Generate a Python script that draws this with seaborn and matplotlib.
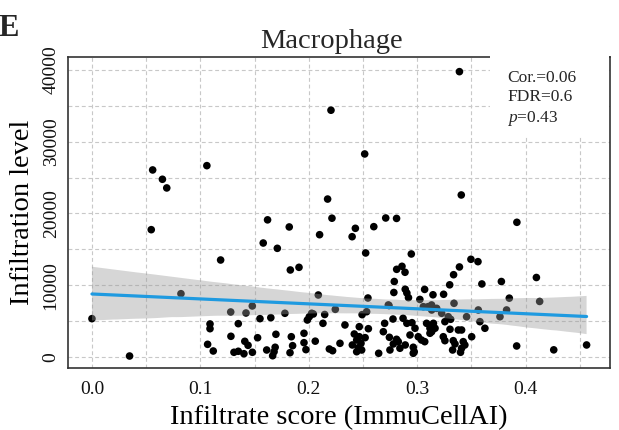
import numpy as np
import pandas as pd
import matplotlib
matplotlib.use("Agg")
import matplotlib.pyplot as plt
import seaborn as sns
from matplotlib.patches import Rectangle
from matplotlib.collections import PolyCollection
from matplotlib.ticker import MultipleLocator

# ---------------- data ----------------
panel_letter = "E"
title = "Macrophage"
x_label = "Infiltrate score (ImmuCellAI)"
y_label = "Infiltration level"
stats_lines = ["Cor.=0.06", "FDR=0.6", "$\\it{p}$=0.43"]
x_ticks = [0.0, 0.1, 0.2, 0.3, 0.4]
x_tick_labels = ["0.0", "0.1", "0.2", "0.3", "0.4"]
y_ticks = [0, 10000, 20000, 30000, 40000]
y_tick_labels = ["0", "10000", "20000", "30000", "40000"]

score = [
    0.056, 0.065, 0.069, 0.106, 0.162, 0.339, 0.2205, 0.2516, 0.2174, 0.3407,
    0.2214, 0.271, 0.281, 0.392, 0.0547, 0.1187, 0.158, 0.171, 0.182, 0.183,
    0.191, 0.210, 0.0821, 0.0, 0.0347, 0.2088, 0.240, 0.243, 0.260, 0.2525,
    0.2946, 0.3496, 0.3561, 0.339, 0.3336, 0.330, 0.2811, 0.286, 0.2888, 0.2789,
    0.2785, 0.289, 0.2905, 0.292, 0.3069, 0.3025, 0.3146, 0.3244, 0.3597, 0.3777,
    0.385, 0.410, 0.413, 0.3918, 0.426, 0.4563, 0.2546, 0.2245, 0.274, 0.2492,
    0.2147, 0.2027, 0.2042, 0.2005, 0.1987, 0.2131, 0.2334, 0.1956, 0.1956, 0.1974,
    0.206, 0.219, 0.222, 0.2288, 0.1067, 0.1089, 0.1089, 0.1119, 0.128, 0.1421,
    0.1479, 0.135, 0.1282, 0.131, 0.135, 0.1402, 0.148, 0.141, 0.144, 0.1528,
    0.155, 0.165, 0.1697, 0.1612, 0.1667, 0.169, 0.168, 0.178, 0.1839, 0.1851,
    0.1827, 0.242, 0.2466, 0.255, 0.2466, 0.252, 0.2442, 0.2482, 0.2402, 0.2458,
    0.2442, 0.2488, 0.2645, 0.2688, 0.270, 0.2777, 0.2744, 0.2734, 0.3057, 0.310,
    0.3133, 0.287, 0.2905, 0.2952, 0.298, 0.281, 0.2826, 0.278, 0.2749, 0.2841,
    0.289, 0.2964, 0.2973, 0.301, 0.304, 0.307, 0.3087, 0.3118, 0.3133, 0.3118,
    0.2534, 0.2934, 0.2964, 0.334, 0.318, 0.3134, 0.3226, 0.3287, 0.3309, 0.3256,
    0.3456, 0.3564, 0.3579, 0.3625, 0.315, 0.3165, 0.3134, 0.3303, 0.338, 0.341,
    0.3241, 0.3256, 0.3333, 0.3349, 0.3327, 0.3425, 0.344, 0.341, 0.340, 0.3503,
    0.3825, 0.3764,
]
level = [
    26060, 24760, 23550, 26660, 19100, 39770, 34390, 28290, 22000, 22570,
    19330, 19360, 19300, 18760, 17730, 13500, 15870, 15130, 18110, 12110,
    12480, 17030, 8800, 5320, 110, 8620, 16750, 17920, 18150, 14480,
    14340, 13600, 13270, 12530, 11450, 10040, 12200, 12620, 11790, 10500,
    8970, 9420, 8900, 8250, 9400, 8000, 8650, 8720, 10160, 10500,
    8180, 11060, 7720, 1510, 970, 1650, 8200, 6620, 7150, 5880,
    5900, 6070, 5970, 5590, 5130, 4670, 4440, 3280, 1970, 1000,
    2180, 1090, 850, 1880, 1740, 4580, 3920, 810, 6250, 6110,
    7090, 4620, 2860, 630, 770, 430, 630, 2160, 1600, 2660,
    5320, 5460, 3140, 950, 150, 1330, 710, 6070, 2800, 1550,
    570, 3180, 4200, 3920, 2800, 2670, 2340, 1880, 1650, 1270,
    710, 950, 490, 3500, 4670, 5270, 2720, 7230, 6990, 6990,
    7230, 5370, 4670, 4760, 3980, 2440, 2110, 1790, 950, 1190,
    1650, 1330, 710, 2800, 2340, 2110, 4670, 3980, 4200, 3280,
    6290, 3040, 490, 7460, 6760, 6530, 6070, 5590, 5230, 4900,
    5590, 6530, 4900, 3980, 4670, 3980, 3500, 3840, 3740, 3740,
    2800, 2250, 2250, 1790, 950, 2110, 1650, 1190, 630, 2800,
    6530, 5590,
]

df = pd.DataFrame({"score": score, "level": level})

# ---------------- style ----------------
sns.set_theme(style="white")
plt.rcParams["font.family"] = ["Liberation Serif", "DejaVu Serif"]
plt.rcParams["mathtext.fontset"] = "custom"
plt.rcParams["mathtext.it"] = "Liberation Serif:italic"
plt.rcParams["mathtext.rm"] = "Liberation Serif"

W, H = 619, 430
fig = plt.figure(figsize=(W / 100, H / 100), dpi=100)
L, R, T, B = 68, 610, 57, 368
ax = fig.add_axes([L / W, 1 - B / H, (R - L) / W, (B - T) / H])

sns.scatterplot(data=df, x="score", y="level", ax=ax, color="black", s=30,
                edgecolor="none", linewidth=0, zorder=2, legend=False)
sns.regplot(data=df, x="score", y="level", ax=ax, scatter=False,
            color="#1f9ae0", seed=3, line_kws={"lw": 2.3, "zorder": 4})
bands = [c for c in ax.collections if isinstance(c, PolyCollection)]
if bands:
    bands[-1].set_facecolor("#999999")
    bands[-1].set_alpha(0.4)
    bands[-1].set_edgecolor("none")
    bands[-1].set_zorder(3)

ax.set_xlim(-0.0221, 0.4779)
ax.set_ylim(-1562, 41813)
ax.set_xticks(x_ticks)
ax.set_xticklabels(x_tick_labels)
ax.set_yticks(y_ticks)
ax.set_yticklabels(y_tick_labels)
ax.xaxis.set_minor_locator(MultipleLocator(0.05))
ax.yaxis.set_minor_locator(MultipleLocator(5000))
ax.set_axisbelow(True)
ax.grid(which="both", color="#c8c8c8", linestyle=(0, (3.5, 2.5)), linewidth=0.8)

for sp in ax.spines.values():
    sp.set_visible(True)
    sp.set_color("#333333")
    sp.set_linewidth(1.2)

ax.tick_params(which="minor", length=0)
ax.tick_params(which="major", length=4, width=1.0, color="#333333",
               labelsize=14, labelcolor="#111111")
ax.tick_params(axis="x", pad=5)
ax.tick_params(axis="y", pad=2, labelrotation=90)
for lbl in ax.get_yticklabels():
    lbl.set_va("center")

ax.set_xlabel(x_label, fontsize=20.5, color="black")
ax.xaxis.set_label_coords(0.5, -0.118)
ax.set_ylabel(y_label, fontsize=20.5, color="black")
ax.yaxis.set_label_coords(-0.06, 0.5)

fig.text(331 / W, 1 - 48 / H, title, ha="center", va="baseline", fontsize=20.5)
fig.text(-0.002, 1 - 36 / H, panel_letter, ha="left", va="baseline",
         fontsize=22, fontweight="bold")

# white statistics box in the top-right corner
x0 = (490 - L) / (R - L)
x1 = (608.5 - L) / (R - L)
y0 = (B - 137) / (B - T)
y1 = (B - 48) / (B - T)
ax.add_patch(Rectangle((x0, y0), x1 - x0, y1 - y0, transform=ax.transAxes,
                       facecolor="white", edgecolor="none", zorder=3.5, clip_on=False))
for i, line in enumerate(stats_lines):
    fig.text(507 / W, 1 - (81.5 + 20 * i) / H, line, ha="left", va="baseline",
             fontsize=12.5, zorder=5)

fig.savefig("out.png", dpi=100)
